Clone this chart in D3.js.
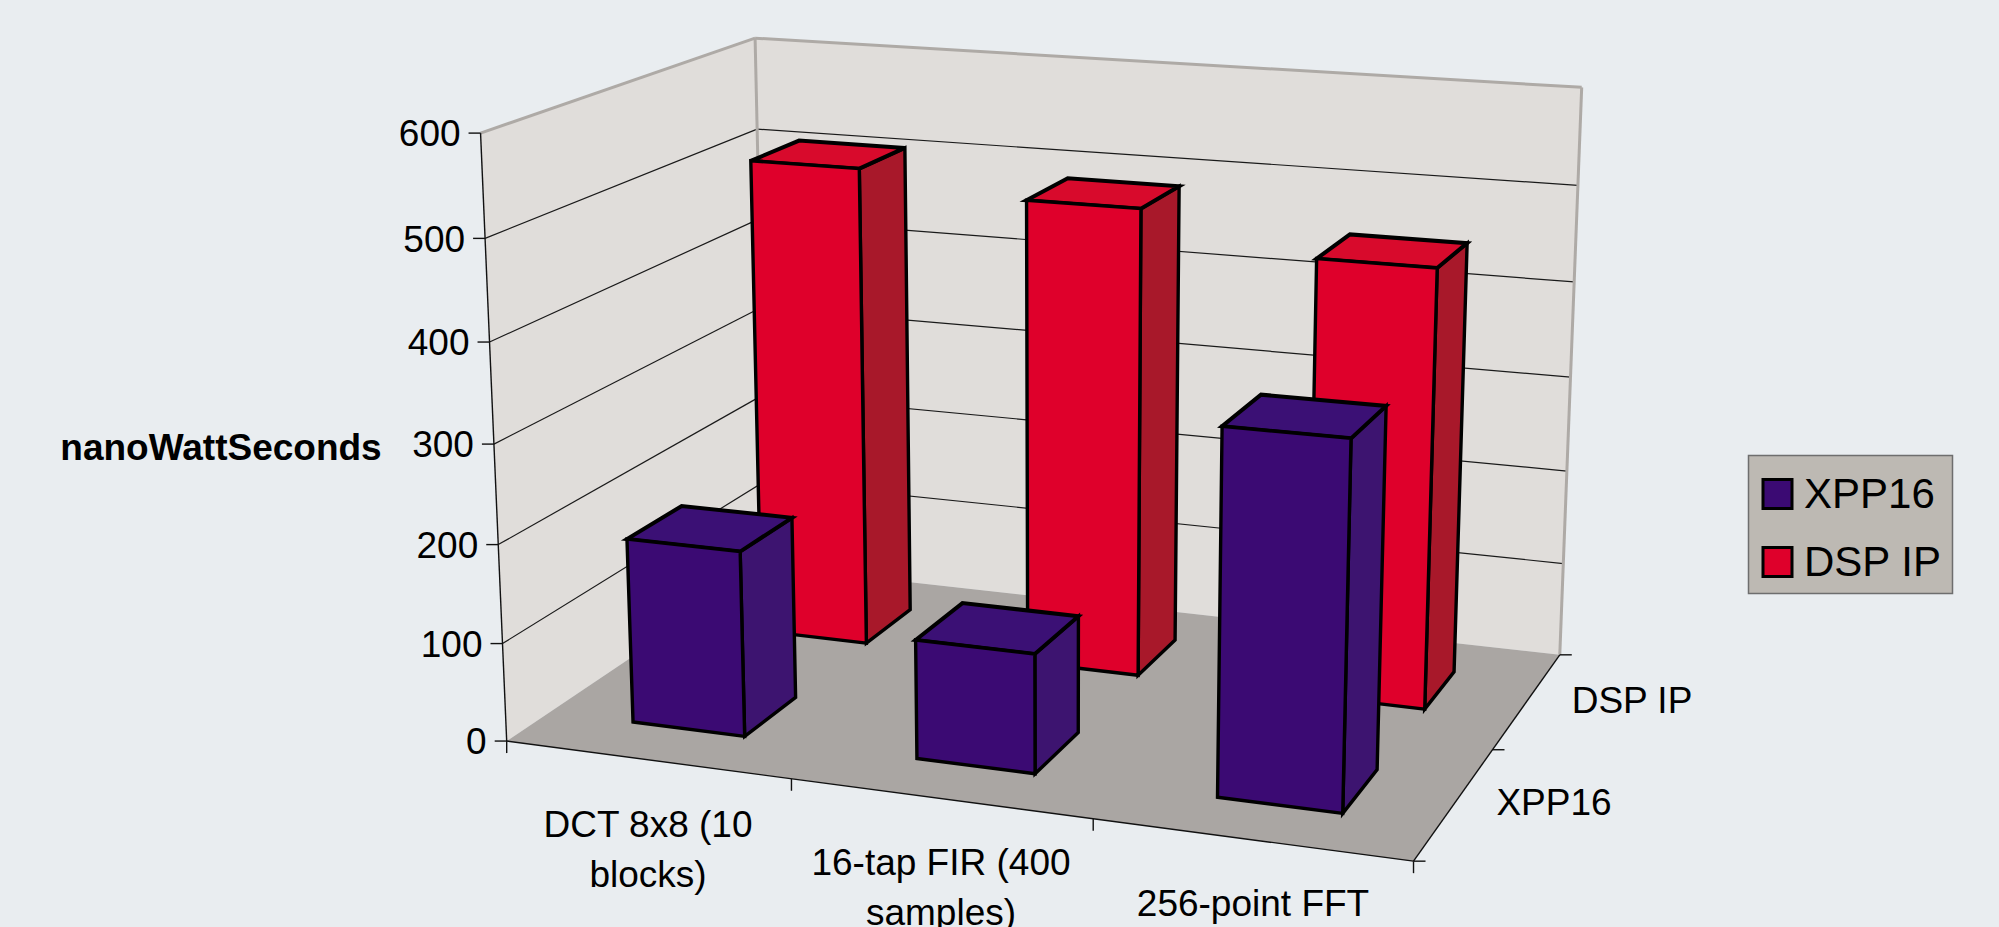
<!DOCTYPE html>
<html>
<head>
<meta charset="utf-8">
<style>
html,body{margin:0;padding:0;background:#e9edf0;overflow:hidden}
svg{display:block}
text{font-family:"Liberation Sans",Arial,sans-serif;fill:#000}
</style>
<script src="https://cdn.jsdelivr.net/npm/d3@7/dist/d3.min.js"></script>
</head>
<body>
<svg id="chart" width="1999" height="927"></svg>
<script>
// Chart data
const categories = ["DCT 8x8 (10 blocks)", "16-tap FIR (400 samples)", "256-point FFT"];
const seriesNames = ["XPP16", "DSP IP"];
const xpp16Values = [189, 120, 359];
const dspIpValues = [509, 489, 452];
const valueTicks = [0, 100, 200, 300, 400, 500, 600];
const valueTitle = "nanoWattSeconds";

const seriesValues = [xpp16Values, dspIpValues];
const palette = [
  {front:"#3b0a73", top:"#3b1075", side:"#3d1470"},
  {front:"#df002b", top:"#d80a2c", side:"#a8182a"}
];

// Camera for the 3D box: box coordinates (u along categories, v up, w into the page)
// mapped to the page by a homography fitted to the corners of the frame.
const frameCorners = [
  [0,0,0, 505.8,741.3],[1,0,0, 1413.5,861],[0,0,1, 768,566],[1,0,1, 1559.5,655],
  [0,1,0, 481.5,133],[0,1,1, 754,38.3],[1,1,1, 1582,87.3]
];
function fitCamera(pts){
  const n = 11, A = d3.range(n).map(()=>new Array(n+1).fill(0));
  const add = (r,b)=>{ for(let i=0;i<n;i++){ for(let j=0;j<n;j++) A[i][j]+=r[i]*r[j]; A[i][n]+=r[i]*b; } };
  pts.forEach(([u,v,w,x,y])=>{
    const X=x/1000, Y=y/1000;
    add([u,v,w,1,0,0,0,0,-X*u,-X*v,-X*w],X);
    add([0,0,0,0,u,v,w,1,-Y*u,-Y*v,-Y*w],Y);
  });
  for(let i=0;i<n;i++){
    let p=i; for(let k=i+1;k<n;k++) if(Math.abs(A[k][i])>Math.abs(A[p][i])) p=k;
    [A[i],A[p]]=[A[p],A[i]];
    for(let k=0;k<n;k++){ if(k===i) continue;
      const f=A[k][i]/A[i][i]; for(let j=i;j<=n;j++) A[k][j]-=f*A[i][j]; }
  }
  return A.map((r,i)=>r[n]/r[i]);
}
const cam = fitCamera(frameCorners);
function project(u,v,w){
  const d = cam[8]*u+cam[9]*v+cam[10]*w+1;
  return [1000*(cam[0]*u+cam[1]*v+cam[2]*w+cam[3])/d, 1000*(cam[4]*u+cam[5]*v+cam[6]*w+cam[7])/d];
}

// Scales into the box
const vScale = d3.scaleLinear().domain([0,600]).range([0,1]);
const uBand = d3.scaleBand().domain(categories).range([0,1]).paddingInner(0.6).paddingOuter(0.3);
const uEdge = d3.scaleLinear().domain([0,categories.length]).range([0,1]);
const wBand = d3.scaleBand().domain(seriesNames).range([0,1]).paddingInner(0.6).paddingOuter(0.3);
const wEdge = d3.scaleLinear().domain([0,seriesNames.length]).range([0,1]);

const svg = d3.select("#chart");
const line = d3.line();
const poly = (g,pts,fill,stroke,sw)=>g.append("path").attr("d",line(pts)+"Z")
  .attr("fill",fill).attr("stroke",stroke||"none").attr("stroke-width",sw||0).attr("stroke-linejoin","miter");
const seg = (g,a,b,stroke,sw)=>g.append("path").attr("d",line([a,b])).attr("stroke",stroke).attr("stroke-width",sw).attr("fill","none");

// Walls and floor
const box = svg.append("g");
poly(box,[project(0,0,0),project(0,1,0),project(0,1,1),project(0,0,1)],"#e0ddda");
poly(box,[project(0,0,1),project(0,1,1),project(1,1,1),project(1,0,1)],"#e0ddda");
poly(box,[project(0,0,0),project(1,0,0),project(1,0,1),project(0,0,1)],"#aaa6a3");

// Gridlines on both walls
valueTicks.filter(t=>t>0 && t<600).forEach(t=>{
  const v=vScale(t);
  seg(box,project(0,v,0),project(0,v,1),"#1a1a1a",1.2);
  seg(box,project(0,v,1),project(1,v,1),"#1a1a1a",1.2);
});

// Wall outlines
seg(box,project(0,1,0),project(0,1,1),"#aeaaa6",3);
seg(box,project(0,1,1),project(1,1,1),"#aeaaa6",3);
seg(box,project(1,1,1),project(1,0,1),"#aeaaa6",3);
seg(box,project(0,1,1),project(0,0,1),"#aeaaa6",3);

// Axes
const axes = svg.append("g");
seg(axes,project(0,1,0),project(0,0,0),"#111",1.4);
seg(axes,project(0,0,0),project(1,0,0),"#111",1.4);
seg(axes,project(1,0,0),project(1,0,1),"#111",1.4);
valueTicks.forEach(t=>{
  const p=project(0,vScale(t),0);
  seg(axes,[p[0]-12,p[1]],p,"#111",1.4);
  axes.append("text").attr("x",p[0]-20).attr("y",p[1]).attr("dy","0.36em")
    .attr("text-anchor","end").attr("font-size",37).text(t);
});
d3.range(categories.length+1).forEach(i=>{
  const p=project(uEdge(i),0,0);
  seg(axes,p,[p[0],p[1]+12],"#111",1.4);
});
d3.range(seriesNames.length+1).forEach(i=>{
  const p=project(1,0,wEdge(i));
  seg(axes,p,[p[0]+12,p[1]],"#111",1.4);
});

// Bars, back row first
const bars = svg.append("g");
[1,0].forEach(s=>{
  categories.forEach((c,i)=>{
    const u0=uBand(c), u1=u0+uBand.bandwidth();
    const w0=wBand(seriesNames[s]), w1=w0+wBand.bandwidth();
    const v=vScale(seriesValues[s][i]), col=palette[s];
    const g=bars.append("g");
    poly(g,[project(u1,0,w0),project(u1,v,w0),project(u1,v,w1),project(u1,0,w1)],col.side,"#000",3.4);
    poly(g,[project(u0,v,w0),project(u1,v,w0),project(u1,v,w1),project(u0,v,w1)],col.top,"#000",4);
    poly(g,[project(u0,0,w0),project(u1,0,w0),project(u1,v,w0),project(u0,v,w0)],col.front,"#000",3.4);
  });
});

// Axis text
const labels = svg.append("g");
labels.append("text").attr("x",221).attr("y",447).attr("dy","0.36em").attr("text-anchor","middle")
  .attr("font-size",37).attr("font-weight","bold").text(valueTitle);
const catLines = [["DCT 8x8 (10","blocks)"],["16-tap FIR (400","samples)"],["256-point FFT"]];
const catPos = [[648,824],[941,862],[1253,903]];
catLines.forEach((ls,i)=>ls.forEach((l,k)=>{
  labels.append("text").attr("x",catPos[i][0]).attr("y",catPos[i][1]+k*50).attr("dy","0.36em")
    .attr("text-anchor","middle").attr("font-size",37).text(l);
}));
const serPos = [[1554,802],[1632,700]];
seriesNames.forEach((n,i)=>{
  labels.append("text").attr("x",serPos[i][0]).attr("y",serPos[i][1]).attr("dy","0.36em")
    .attr("text-anchor","middle").attr("font-size",37).text(n);
});

// Legend
const legend = svg.append("g");
legend.append("rect").attr("x",1748.5).attr("y",455.5).attr("width",204).attr("height",138)
  .attr("fill","#bdb9b3").attr("stroke","#6e6e6e").attr("stroke-width",1.5);
const legendY = d3.scalePoint().domain(seriesNames).range([494,562]);
seriesNames.forEach((n,i)=>{
  const y=legendY(n);
  legend.append("rect").attr("x",1763).attr("y",y-14.5).attr("width",29).attr("height",29)
    .attr("fill",palette[i].front).attr("stroke","#000").attr("stroke-width",3);
  legend.append("text").attr("x",1804).attr("y",y-1.5).attr("dy","0.36em").attr("font-size",42).text(n);
});
</script>
</body>
</html>
